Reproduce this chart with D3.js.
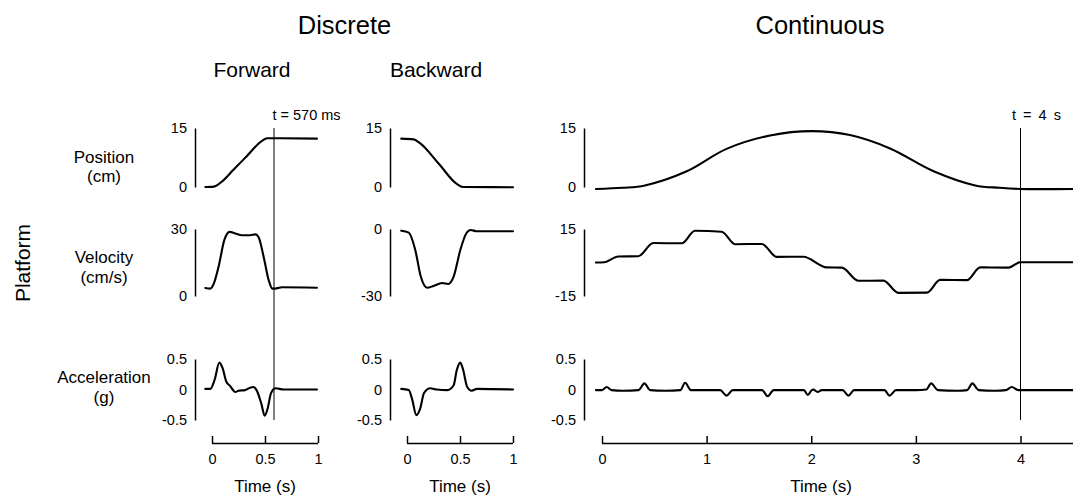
<!DOCTYPE html>
<html><head><meta charset="utf-8">
<script src="https://cdn.jsdelivr.net/npm/d3@7"></script>
<style>
body{margin:0;background:#fff}
svg{display:block}
text{font-family:"Liberation Sans",Arial,Helvetica,sans-serif;fill:#000}
</style>
</head><body>
<svg id="chart" width="1073" height="499"></svg>
<script>
// ---------------- data ----------------
const groupTitles = ["Discrete", "Continuous"];
const directionTitles = ["Forward", "Backward"];
const rowLabels = [["Position", "(cm)"], ["Velocity", "(cm/s)"], ["Acceleration", "(g)"]];
const sideLabel = "Platform";
const timeLabel = "Time (s)";

const discreteTimeTicks = [0, 0.5, 1];
const continuousTimeTicks = [0, 1, 2, 3, 4];

const positionTicks = [0, 15];
const forwardVelocityTicks = [0, 30];
const backwardVelocityTicks = [-30, 0];
const continuousVelocityTicks = [-15, 15];
const accelerationTicks = [-0.5, 0, 0.5];

const discreteMarker = 0.585;
const discreteMarkerLabel = "t = 570 ms";
const continuousMarker = 4;
const continuousMarkerLabel = "t = 4 s";

// [time (s), value]
const forwardPosition = [[-0.063,0],[0.0,0.03],[0.03,0.17],[0.094,1.4],[0.2,4.3],[0.33,7.9],[0.456,11.4],[0.52,12.4],[0.58,12.4],[0.99,12.3]];
const forwardVelocity = [[-0.063,3.6],[-0.016,3.3],[0.016,5.4],[0.062,13.1],[0.116,25],[0.166,28.7],[0.22,28],[0.283,27.2],[0.36,27.2],[0.41,27.6],[0.44,26.3],[0.487,17.6],[0.534,7.2],[0.57,3.3],[0.61,3.4],[0.66,3.9],[0.99,3.7]];
const forwardAcceleration = [[-0.063,0.01],[-0.016,0.01],[0.025,0.16],[0.069,0.44],[0.10,0.35],[0.135,0.13],[0.17,0.06],[0.22,-0.04],[0.25,-0.02],[0.31,-0.01],[0.36,0.03],[0.39,0.04],[0.42,-0.01],[0.465,-0.23],[0.497,-0.43],[0.525,-0.31],[0.557,-0.06],[0.6,0.02],[0.675,0],[0.99,0]];

const backwardPosition = [[-0.054,12.3],[0.063,12.1],[0.125,11.1],[0.3,5.9],[0.47,0.77],[0.53,0],[1.0,-0.05]];
const backwardVelocity = [[-0.054,-0.75],[0.016,-1.6],[0.078,-9.4],[0.13,-21.3],[0.19,-26.3],[0.25,-25.5],[0.33,-24.2],[0.39,-24.6],[0.44,-21.3],[0.503,-9.4],[0.56,-1.9],[0.60,-0.45],[0.66,-1.0],[1.0,-1.0]];
const backwardAcceleration = [[-0.054,0.01],[0.016,-0.01],[0.047,-0.15],[0.088,-0.42],[0.125,-0.31],[0.16,-0.06],[0.22,0.02],[0.28,0],[0.38,-0.01],[0.44,0.07],[0.47,0.32],[0.503,0.44],[0.53,0.32],[0.566,0.05],[0.61,-0.02],[0.66,0.01],[1.0,0]];

const continuousPosition = [[-0.058,-0.5],[0.2,-0.2],[0.41,0.4],[0.81,4.0],[1.19,9.7],[1.607,13.1],[2.005,14.2],[2.37,13.2],[2.753,9.8],[3.17,4.0],[3.567,0.4],[3.8,-0.2],[3.997,-0.5],[4.5,-0.5]];
const continuousVelocity = [[-0.058,0],[0.02,0.1],[0.156,2.7],[0.347,2.8],[0.49,8.7],[0.762,8.6],[0.889,14.2],[1.144,13.8],[1.272,8.2],[1.527,8.3],[1.67,2.5],[1.925,2.6],[2.148,-2.2],[2.292,-2.3],[2.451,-8.2],[2.69,-8.1],[2.833,-13.6],[3.105,-13.5],[3.232,-7.8],[3.487,-7.9],[3.615,-2.2],[3.886,-2.3],[3.997,0.1],[4.5,0.1]];
const continuousAcceleration = [[-0.058,-0.01],[0.0,-0.01],[0.045,0.04],[0.09,-0.01],[0.2,-0.02],[0.35,-0.01],[0.405,0.10],[0.46,-0.01],[0.6,-0.02],[0.75,-0.01],[0.794,0.11],[0.85,-0.01],[1.0,-0.01],[1.13,-0.01],[1.19,-0.10],[1.25,-0.01],[1.4,-0.01],[1.53,-0.01],[1.584,-0.11],[1.64,-0.01],[1.8,-0.01],[1.93,-0.01],[1.967,-0.09],[2.0,-0.02],[2.02,0.0],[2.06,-0.04],[2.1,-0.01],[2.3,-0.01],[2.355,-0.10],[2.41,-0.01],[2.55,-0.01],[2.7,-0.01],[2.748,-0.10],[2.81,-0.01],[3.0,-0.01],[3.1,0.0],[3.146,0.10],[3.21,-0.01],[3.4,-0.02],[3.49,-0.01],[3.54,0.10],[3.6,-0.01],[3.75,-0.02],[3.86,-0.01],[3.917,0.04],[3.98,-0.01],[4.5,-0.01]];

// ---------------- layout ----------------
const W = 1073, H = 499;
const rowRanges = [[187, 128], [296, 229], [420, 359]];
const xAxisY = 443;
const fontFamily = '"Liberation Sans",Arial,Helvetica,sans-serif';

const panels = [
  { xDomain:[0,1], xRange:[212,318], yAxisX:195, ticks:discreteTimeTicks, axisEnd:null,
    series:[forwardPosition, forwardVelocity, forwardAcceleration],
    curves:[d3.curveMonotoneX, d3.curveMonotoneX, d3.curveMonotoneX],
    yDomains:[[0,15],[0,30],[-0.5,0.5]], yTicks:[positionTicks, forwardVelocityTicks, accelerationTicks],
    marker:discreteMarker, markerLabel:discreteMarkerLabel, labelDx:-1.5, labelLen:null, timeLabelX:null },
  { xDomain:[0,1], xRange:[407,513], yAxisX:390, ticks:discreteTimeTicks, axisEnd:null,
    series:[backwardPosition, backwardVelocity, backwardAcceleration],
    curves:[d3.curveMonotoneX, d3.curveMonotoneX, d3.curveMonotoneX],
    yDomains:[[0,15],[-30,0],[-0.5,0.5]], yTicks:[positionTicks, backwardVelocityTicks, accelerationTicks],
    marker:null, timeLabelX:null },
  { xDomain:[0,4], xRange:[602,1020.5], yAxisX:584, ticks:continuousTimeTicks, axisEnd:W,
    series:[continuousPosition, continuousVelocity, continuousAcceleration],
    curves:[d3.curveCatmullRom.alpha(0.5), d3.curveMonotoneX, d3.curveMonotoneX],
    yDomains:[[0,15],[-15,15],[-0.5,0.5]], yTicks:[positionTicks, continuousVelocityTicks, accelerationTicks],
    marker:continuousMarker, markerLabel:continuousMarkerLabel, labelDx:-8.6, labelLen:49, timeLabelX:821 }
];

const svg = d3.select("#chart");
svg.append("rect").attr("width", W).attr("height", H).attr("fill", "#fff");

// titles
svg.append("text").attr("x", 344.5).attr("y", 33.5).attr("text-anchor","middle")
  .style("font-size","25.5px").text(groupTitles[0]);
svg.append("text").attr("x", 820).attr("y", 33.5).attr("text-anchor","middle")
  .style("font-size","25.5px").text(groupTitles[1]);
svg.append("text").attr("x", 252).attr("y", 76.5).attr("text-anchor","middle")
  .style("font-size","21px").text(directionTitles[0]);
svg.append("text").attr("x", 436).attr("y", 76.5).attr("text-anchor","middle")
  .style("font-size","21px").text(directionTitles[1]);

// side label
svg.append("text").attr("transform","translate(30,263) rotate(-90)")
  .attr("text-anchor","middle").style("font-size","21px").text(sideLabel);

// row labels
const rowLabelY = [[162.5,181.5],[263,283],[383,403]];
rowLabels.forEach((lines, i) => {
  lines.forEach((t, j) => {
    svg.append("text").attr("x", 104).attr("y", rowLabelY[i][j])
      .attr("text-anchor","middle").style("font-size","17px").text(t);
  });
});

panels.forEach(p => {
  const x = d3.scaleLinear().domain(p.xDomain).range(p.xRange);
  const g = svg.append("g");

  p.series.forEach((data, r) => {
    const y = d3.scaleLinear().domain(p.yDomains[r]).range(rowRanges[r]);
    const ay = g.append("g").attr("transform", `translate(${p.yAxisX},0)`)
      .call(d3.axisLeft(y).tickValues(p.yTicks[r]).tickSize(0).tickSizeOuter(0)
        .tickPadding(8).tickFormat(d => String(d)));
    ay.select(".domain").attr("stroke","#000").attr("stroke-width",1.5);
    ay.selectAll("text").style("font-size","14.5px").style("font-family", fontFamily).attr("fill","#000");
    const line = d3.line().curve(p.curves[r]).x(d => x(d[0])).y(d => y(d[1]));
    g.append("path").datum(data).attr("d", line)
      .attr("fill","none").attr("stroke","#000").attr("stroke-width",2.1)
      .attr("stroke-linejoin","round").attr("stroke-linecap","round");
  });

  const ax = g.append("g").attr("transform", `translate(0,${xAxisY})`)
    .call(d3.axisBottom(x).tickValues(p.ticks).tickSize(-7).tickSizeOuter(0)
      .tickPadding(11).tickFormat(d => String(d)));
  ax.select(".domain").remove();
  ax.append("line").attr("x1", x(p.xDomain[0])).attr("x2", p.axisEnd ? p.axisEnd : x(p.xDomain[1]))
    .attr("y1", 0.5).attr("y2", 0.5).attr("stroke","#000").attr("stroke-width",1.5);
  ax.selectAll(".tick line").attr("stroke","#000").attr("stroke-width",1.5);
  ax.selectAll("text").style("font-size","14.5px").style("font-family", fontFamily).attr("fill","#000");

  const tlx = p.timeLabelX != null ? p.timeLabelX : x((p.xDomain[0] + p.xDomain[1]) / 2);
  g.append("text").attr("x", tlx).attr("y", 492).attr("text-anchor","middle")
    .style("font-size","17px").text(timeLabel);

  if (p.marker != null) {
    const mx = x(p.marker);
    g.append("line").attr("x1", mx).attr("x2", mx).attr("y1", rowRanges[0][1]).attr("y2", rowRanges[2][0])
      .attr("stroke","#000").attr("stroke-width",1);
    const lbl = g.append("text").attr("x", mx + p.labelDx).attr("y", 120)
      .style("font-size","14.5px").text(p.markerLabel);
    if (p.labelLen) lbl.attr("textLength", p.labelLen).attr("lengthAdjust", "spacing");
  }
});
</script>
</body></html>
